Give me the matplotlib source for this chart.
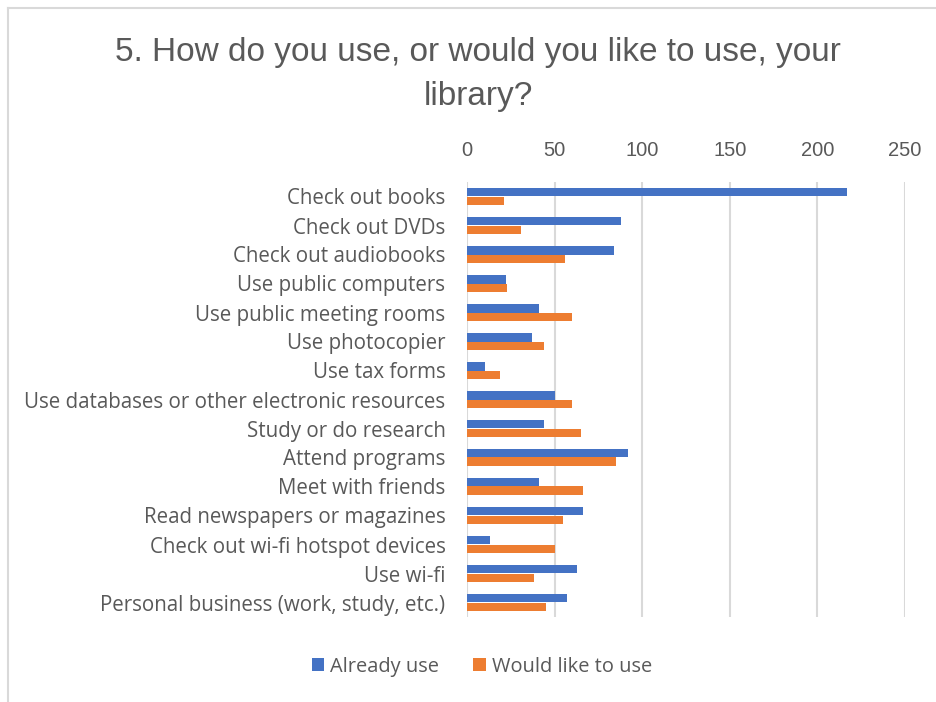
import numpy as np
import matplotlib
matplotlib.use('Agg')
import matplotlib.pyplot as plt
from matplotlib.lines import Line2D

plt.rcParams['font.family'] = ['Liberation Sans', 'DejaVu Sans']

# ── data ────────────────────────────────────────────
categories = [
    'Check out books',
    'Check out DVDs',
    'Check out audiobooks',
    'Use public computers',
    'Use public meeting rooms',
    'Use photocopier',
    'Use tax forms',
    'Use databases or other electronic resources',
    'Study or do research',
    'Attend programs',
    'Meet with friends',
    'Read newspapers or magazines',
    'Check out wi-fi hotspot devices',
    'Use wi-fi',
    'Personal business (work, study, etc.)',
]
already_use = [217, 88, 84, 22, 41, 37, 10, 50, 44, 92, 41, 66, 13, 63, 57]
would_like = [21, 31, 56, 23, 60, 44, 19, 60, 65, 85, 66, 55, 50, 38, 45]
x_ticks = [0, 50, 100, 150, 200, 250]

BLUE = '#4472C4'
ORANGE = '#ED7D31'
TXT = '#595959'
GRID = '#D9D9D9'
LABEL_FONT = ['Open Sans', 'DejaVu Sans']

fig = plt.figure(figsize=(9.37, 7.02), dpi=100)
ax = fig.add_axes([467 / 937, 1 - 617 / 702, 438 / 937, 435 / 702])

y = np.arange(len(categories))
h = 0.277
ax.barh(y - h / 2, already_use, height=h, color=BLUE, label='Already use', zorder=3)
ax.barh(y + h / 2, would_like, height=h, color=ORANGE, label='Would like to use', zorder=3)

ax.set_xlim(0, 250)
ax.set_ylim(len(categories) - 0.5, -0.5)
ax.set_xticks(x_ticks)
ax.xaxis.tick_top()
ax.tick_params(axis='x', length=0, labelsize=14.5, colors=TXT, pad=16)
ax.set_yticks(y)
ax.set_yticklabels(categories, family=LABEL_FONT)
ax.tick_params(axis='y', length=0, labelsize=14.8, colors=TXT, pad=15.5)
ax.grid(axis='x', color=GRID, linewidth=1.5, zorder=0)
for s in ax.spines.values():
    s.set_visible(False)

fig.text(478 / 937, 1 - 52 / 702, '5. How do you use, or would you like to use, your',
         ha='center', va='center', fontsize=24, color=TXT)
fig.text(478 / 937, 1 - 97 / 702, 'library?',
         ha='center', va='center', fontsize=24, color=TXT)

leg = fig.legend(loc='center', bbox_to_anchor=(482 / 937, 1 - 667 / 702), ncol=2,
                 frameon=False, prop={'family': LABEL_FONT, 'size': 14.4},
                 handlelength=0.62, handleheight=0.62,
                 handletextpad=0.3, columnspacing=1.7)
for t in leg.get_texts():
    t.set_color(TXT)

# chart area border: only the left and top edges show in the crop
fig.add_artist(Line2D([8 / 937, 8 / 937], [0, 1 - 8 / 702], transform=fig.transFigure,
                      color=GRID, linewidth=1.5))
fig.add_artist(Line2D([8 / 937, 1], [1 - 8 / 702, 1 - 8 / 702], transform=fig.transFigure,
                      color=GRID, linewidth=1.5))

fig.savefig('out.png', dpi=100)
